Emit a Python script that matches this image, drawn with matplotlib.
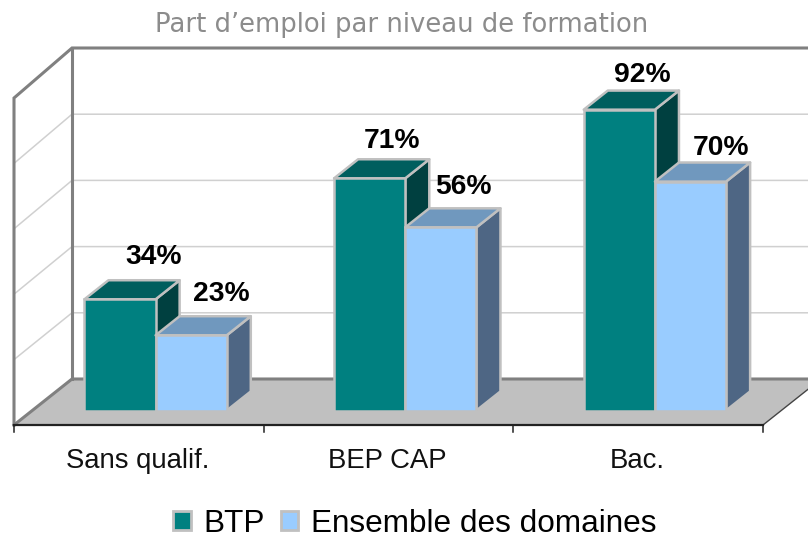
import matplotlib
matplotlib.use("Agg")
import matplotlib.pyplot as plt
from matplotlib.patches import Polygon, Patch

categories = ["Sans qualif.", "BEP CAP", "Bac."]
series_names = ["BTP", "Ensemble des domaines"]
btp = [34, 71, 92]
ensemble = [23, 56, 70]
grid_ticks = [20, 40, 60, 80]
title = "Part d\u2019emploi par niveau de formation"

W, H = 808, 539
X0, X3, Y0, Y100 = 14, 763, 425, 98      # pixel frame of the front plane
PX_CAT = (X3 - X0) / 3
PX_VAL = (Y0 - Y100) / 100
DX = 58 / PX_CAT                         # wall depth, categories
DY = 46 / PX_VAL                         # wall depth, value units
BACK = 331 / 327                         # back wall is slightly taller

fig = plt.figure(figsize=(W / 100, H / 100), dpi=100)
ax = fig.add_axes([0, 0, 1, 1])
ax.set_xlim((0 - X0) / PX_CAT, (W - X0) / PX_CAT)
ax.set_ylim((Y0 - H) / PX_VAL, Y0 / PX_VAL)
ax.axis("off")


def P(x, v, d=0.0, back=1.0):
    return (x + d * DX, v * back + d * DY)


WALL = "#808080"
GRID = "#d0d0d0"
n = len(categories)

# floor
ax.add_patch(Polygon([P(0, 0), P(n, 0), P(n, 0, 1), P(0, 0, 1)], closed=True,
                     fc="#c0c0c0", ec="none", zorder=1))
# grid
for g in grid_ticks:
    pts = [P(0, g, 0), P(0, g, 1, BACK), P(n, g, 1, BACK)]
    ax.plot(*zip(*pts), color=GRID, lw=1.1, zorder=0.5)
# walls
for seg in ([P(0, 0), P(0, 100), P(0, 100, 1, BACK), P(n, 100, 1, BACK)],
            [P(0, 100, 1, BACK), P(0, 0, 1)],
            [P(0, 0), P(0, 0, 1), P(n, 0, 1)]):
    ax.plot(*zip(*seg), color=WALL, lw=2.2, zorder=2, solid_joinstyle="miter")
ax.plot(*zip(P(n, 0), P(n, 0, 1)), color="#444444", lw=1.0, zorder=2)
# axis line and ticks
ax.plot(*zip(P(0, 0), P(n, 0)), color="#222222", lw=1.6, zorder=3)
for i in range(n + 1):
    ax.plot([i, i], [0, -7 / PX_VAL], color="#222222", lw=1.1, zorder=3)
for i, c in enumerate(categories):
    ax.annotate(c, xy=P(i + 0.5, 0), xytext=(-1, -43), textcoords="offset pixels",
                ha="center", va="baseline", fontsize=19.8, family="Liberation Sans",
                color="#111111")

# bars
START, END = 0.315, 0.73
OFFS = [0.282, 0.567]
WID = 0.285
EDGE = "#c0c0c0"
styles = [("#008080", "#005e5e", "#004040"), ("#99ccff", "#7098be", "#4e6684")]
label_dx = [[34, 22, 23], [30, 23, 31]]
label_dy = [[35, 30, 28], [34, 33, 27]]
for s, vals in enumerate([btp, ensemble]):
    front, top, side = styles[s]
    xs = [i + OFFS[s] for i in range(n)]
    base = START * DY
    for x, v in zip(xs, vals):
        z = 5 + (0 if s == 0 else 1)
        ax.add_patch(Polygon([P(x + WID, v + base), P(x + WID, v + base, END - START),
                              P(x + WID, base, END - START), P(x + WID, base)],
                             closed=True, fc=side, ec=EDGE, lw=1.8, zorder=z, joinstyle="round"))
        ax.add_patch(Polygon([P(x, v + base), P(x + WID, v + base),
                              P(x + WID, v + base, END - START), P(x, v + base, END - START)],
                             closed=True, fc=top, ec=EDGE, lw=1.8, zorder=z, joinstyle="round"))
    ax.bar(xs, vals, width=WID, bottom=base, align="edge", color=front,
           edgecolor=EDGE, linewidth=1.8, zorder=5.5 + s)
    for i, (x, v) in enumerate(zip(xs, vals)):
        ax.annotate(f"{v}%", xy=(x + WID / 2, v + base),
                    xytext=(label_dx[s][i], label_dy[s][i]), textcoords="offset pixels",
                    ha="center", va="baseline", fontsize=20.3, fontweight="bold",
                    family="Liberation Sans", color="black", zorder=10)

ax.text(402 / W, 1 - 25 / H, title, transform=ax.transAxes, ha="center", va="center",
        fontsize=18.6, family="DejaVu Sans", color="#8c8c8c")

handles = [Patch(fc=styles[i][0], ec=EDGE, lw=2) for i in range(2)]
leg = ax.legend(handles, series_names, loc="center", bbox_to_anchor=(415 / W, 1 - 523.5 / H),
                ncol=2, frameon=False, handlelength=0.56, handleheight=0.56,
                handletextpad=0.4, columnspacing=0.5,
                prop={"family": "Liberation Sans", "size": 22.7})
fig.savefig("out.png", dpi=100)
